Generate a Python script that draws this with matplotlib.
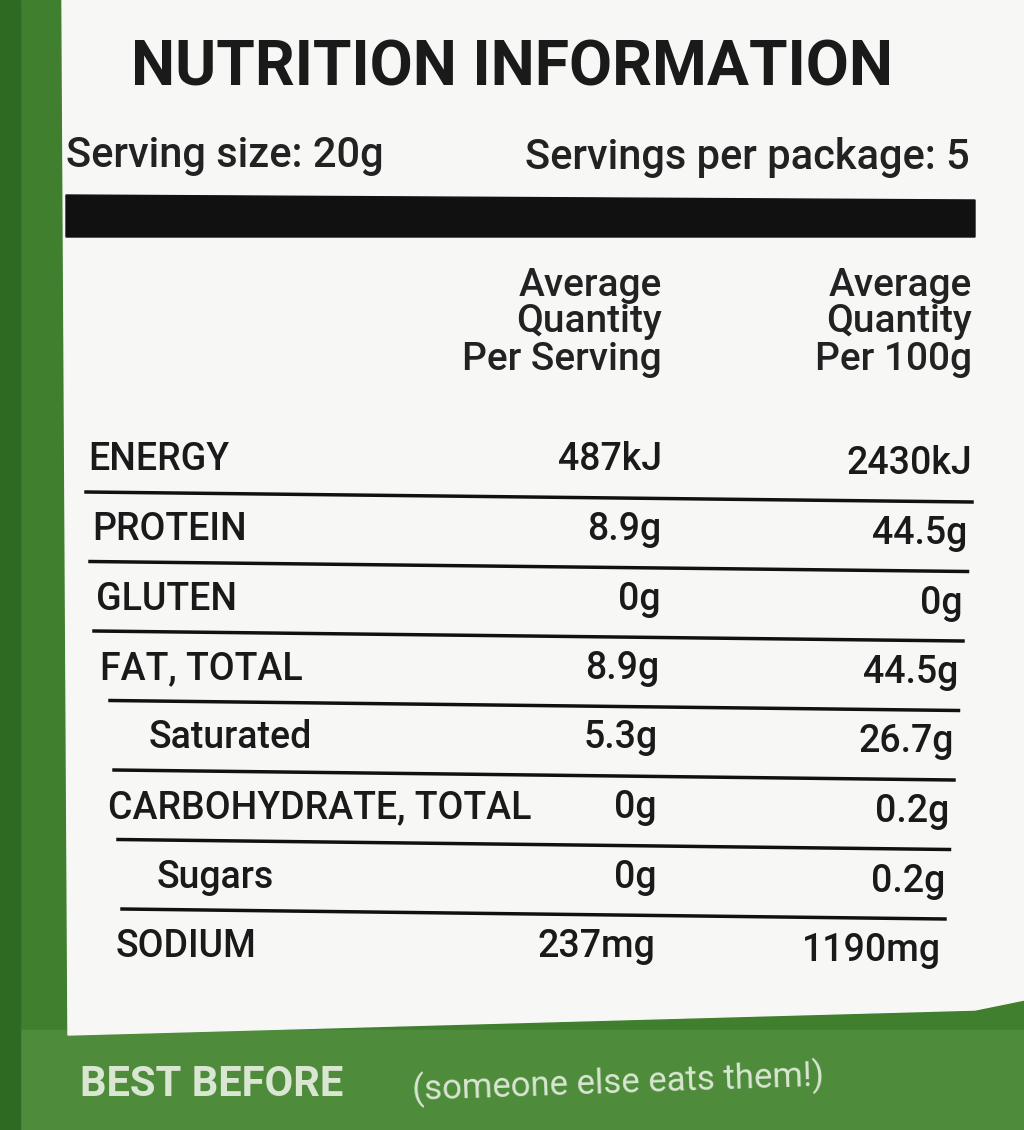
import matplotlib
matplotlib.use("Agg")
import matplotlib.pyplot as plt
from matplotlib.patches import Polygon, Rectangle

title = "NUTRITION INFORMATION"
serving_info = ["Serving size: 20g", "Servings per package: 5"]
col_headers = ["Average\nQuantity\nPer Serving", "Average\nQuantity\nPer 100g"]
nutrients = ["ENERGY", "PROTEIN", "GLUTEN", "FAT, TOTAL", "Saturated",
             "CARBOHYDRATE, TOTAL", "Sugars", "SODIUM"]
indented = [False, False, False, False, True, False, True, False]
per_serving = ["487kJ", "8.9g", "0g", "8.9g", "5.3g", "0g", "0g", "237mg"]
per_100g = ["2430kJ", "44.5g", "0g", "44.5g", "26.7g", "0.2g", "0.2g", "1190mg"]
footer_bold = "BEST BEFORE"
footer_rest = "(someone else eats them!)"

FONT = ['Roboto', 'DejaVu Sans']
plt.rcParams['font.family'] = FONT
W = 'medium'

fig = plt.figure(figsize=(10.24, 11.30), dpi=100)
ax = fig.add_axes([0, 0, 1, 1])
ax.set_xlim(0, 1024); ax.set_ylim(1130, 0); ax.axis('off')

ax.add_patch(Rectangle((0, 0), 1024, 1130, color='#3f7f2e'))
ax.add_patch(Rectangle((0, 1030), 1024, 100, color='#4e8c3c'))
ax.add_patch(Polygon([(62, 0), (1024, 0), (1024, 1000), (975, 1010), (68, 1035)],
                     closed=True, color='#f7f8f6'))
ax.add_patch(Rectangle((0, 0), 20, 1130, color='#2f6a22'))

ax.text(512, 68, title, ha='center', va='center', fontsize=45, fontweight='bold', color='#1a1a1a')
ax.text(66, 155, serving_info[0], ha='left', va='center', fontsize=30, fontweight=W, color='#222')
ax.text(970, 158, serving_info[1], ha='right', va='center', fontsize=30, fontweight=W, color='#222')
ax.add_patch(Polygon([(66, 195), (975, 200), (975, 237), (66, 237)], closed=True, color='#111'))

ax.text(662, 322, col_headers[0], ha='right', va='center', fontsize=28, fontweight=W, color='#222', linespacing=1.0)
ax.text(972, 322, col_headers[1], ha='right', va='center', fontsize=28, fontweight=W, color='#222', linespacing=1.0)

y0, dy = 460, 69.5
n = len(nutrients)
for i in range(n):
    y = y0 + i * dy
    xl = 88 + i * 4 + (45 if indented[i] else 0)
    xs = 662 - i * 1
    xr = 972 - i * 4.5
    ax.text(xl, y, nutrients[i], ha='left', va='center', fontsize=27, fontweight=W, color='#1a1a1a')
    ax.text(xs, y, per_serving[i], ha='right', va='center', fontsize=27, fontweight=W, color='#1a1a1a')
    ax.text(xr, y + 4, per_100g[i], ha='right', va='center', fontsize=27, fontweight=W, color='#1a1a1a')
    if i < n - 1:
        ly = y + 32
        lstart = xl - (45 if indented[i] else 0) - 2 + (12 if indented[i + 1] or indented[i] else 0)
        ax.plot([lstart, xr], [ly, ly + 10], color='#111', lw=2.5)

ax.text(80, 1085, footer_bold, ha='left', va='center', fontsize=30, fontweight='bold', color='#d9e6d2')
ax.text(412, 1083, footer_rest, ha='left', va='center', fontsize=25, color='#d9e6d2', rotation=2)

fig.savefig("out.png", dpi=100)
